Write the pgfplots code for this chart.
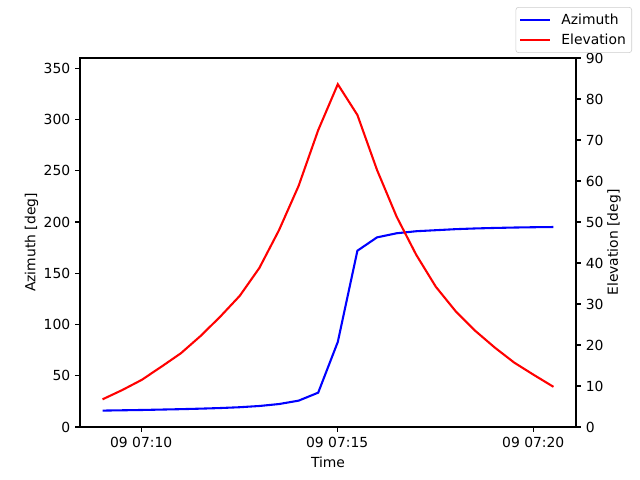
\documentclass[border=0pt]{standalone}
\usepackage{fontspec}
\setmainfont{DejaVu Sans}
\usepackage{pgfplots}
\pgfplotsset{compat=1.18}
\usepackage{pgfplotstable}
\pgfplotstableread{
t az el
9.015 16.0 6.75
9.515 16.3 9.0
10.015 16.6 11.5
10.515 17.0 14.7
11.015 17.4 18.0
11.515 17.9 22.2
12.015 18.5 26.9
12.515 19.3 32.0
13.015 20.5 38.8
13.515 22.4 48.0
14.015 25.7 58.8
14.515 33.5 72.4
15.015 83.0 83.6
15.515 172.0 76.1
16.015 185.0 62.7
16.515 189.0 51.3
17.015 191.0 42.0
17.515 192.0 34.2
18.015 193.0 28.3
18.515 193.7 23.5
19.015 194.2 19.4
19.515 194.6 15.7
20.015 194.9 12.7
20.515 195.1 9.8
}\datatable
\pgfplotsset{
  common/.style={
    scale only axis, width=357.12pt, height=265.68pt,
    at={(57.6pt,38.16pt)}, anchor=south west,
    xmin=8.44, xmax=21.09,
    /pgf/number format/assume math mode=true,
    tick align=outside,
    major tick length=3.5pt,
    every tick/.style={black, line width=0.8pt},
    axis line style={line width=0.8pt},
    ticklabel style={font=\fontsize{10}{12}\selectfont},
    label style={font=\fontsize{10}{12}\selectfont},
  }
}
\begin{document}
\begin{tikzpicture}
\path (0,0) rectangle (460.8pt,345.6pt);
\begin{axis}[common,
  ymin=0, ymax=360,
  ytick={0,50,...,350},
  xtick={10,15,20},
  xticklabels={09 07:10,09 07:15,09 07:20},
  xtick pos=bottom, ytick pos=left,
  xlabel={Time}, ylabel={Azimuth [deg]},
  ylabel shift=-3pt,
]
\addplot[blue, line width=1.5pt] table[x=t,y=az] {\datatable};
\end{axis}
\begin{axis}[common,
  ymin=0, ymax=90,
  ytick={0,10,...,90},
  axis x line=none,
  axis y line*=right,
  ytick pos=right,
  ylabel={Elevation [deg]},
  ylabel shift=-4pt,
  legend style={at={(1.1129,1.1382)}, anchor=north east,
    draw=black!20, rounded corners=2pt, font=\fontsize{10}{12}\selectfont,
    row sep=1.5pt, inner xsep=2.6pt, inner ysep=2.5pt,
    /tikz/every odd column/.append style={column sep=5.5pt},
    nodes={inner xsep=1.6pt}},
  legend cell align=left,
  legend image code/.code={\draw[#1] (0pt,0pt) -- (21.6pt,0pt);},
]
\addlegendimage{blue, line width=1.5pt}
\addlegendentry{Azimuth}
\addplot[red, line width=1.5pt] table[x=t,y=el] {\datatable};
\addlegendentry{Elevation}
\end{axis}
\end{tikzpicture}
\end{document}
